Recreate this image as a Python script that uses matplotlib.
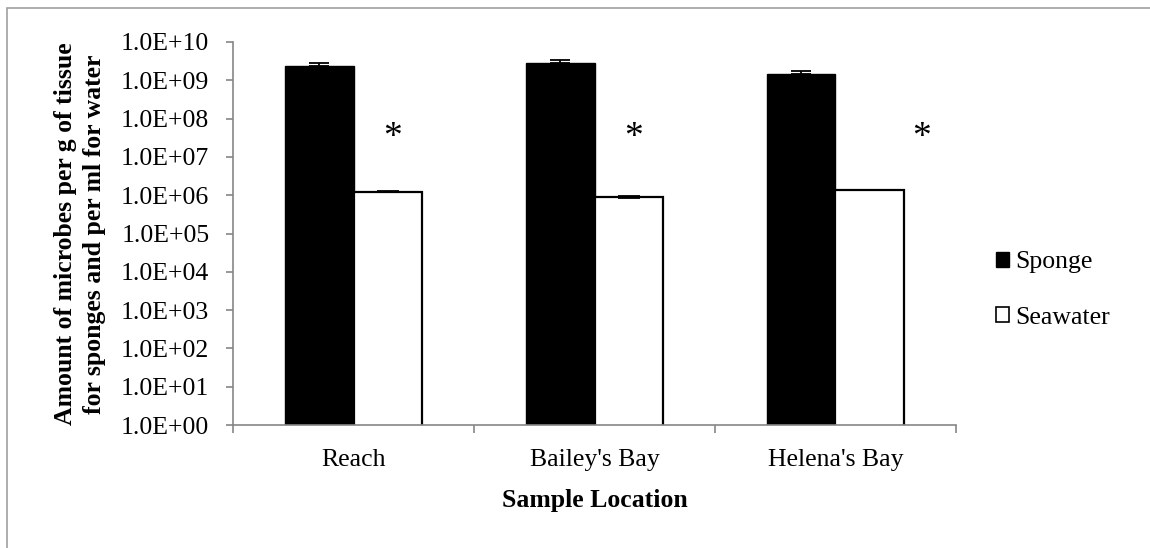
import numpy as np
import matplotlib
matplotlib.use("Agg")
import matplotlib.pyplot as plt
from matplotlib.patches import Patch, Rectangle

locations = ["Reach", "Bailey's Bay", "Helena's Bay"]
sponge = [2.3e9, 2.8e9, 1.45e9]
sponge_err = [0.5e9, 0.6e9, 0.32e9]
seawater = [1.24e6, 8.9e5, 1.34e6]
seawater_err = [0.06e6, 0.04e6, 0.01e6]
star_offsets = [0.164, 0.16, 0.355]
star_level = 10 ** 7.5

plt.rcParams['font.family'] = ['Liberation Serif', 'DejaVu Serif']
plt.rcParams['font.size'] = 18.5

fig = plt.figure(figsize=(11.5, 5.48), dpi=100)
ax = fig.add_axes([233 / 1150, 1 - 425 / 548, (956 - 233) / 1150, (425 - 42) / 548])

x = np.arange(len(locations))
w = 0.286
ax.bar(x - w / 2, sponge, w, color='black', edgecolor='black', linewidth=1,
       yerr=[np.zeros(3), sponge_err], error_kw=dict(ecolor='black', elinewidth=1.3, capsize=7, capthick=1.3),
       label='Sponge')
ax.bar(x + w / 2, seawater, w, color='white', edgecolor='black', linewidth=1.6,
       yerr=seawater_err, error_kw=dict(ecolor='black', elinewidth=1.3, capsize=8, capthick=1.3),
       label='Seawater')

for i, off in enumerate(star_offsets):
    ax.text(x[i] + off, star_level, '*', ha='center', va='center', fontsize=27)

ax.set_yscale('log')
ax.set_ylim(1, 1e10)
ax.set_xlim(-0.5, 2.5)
ax.set_yticks([10.0 ** k for k in range(11)])
ax.set_yticklabels(['1.0E+%02d' % k for k in range(11)])
ax.minorticks_off()
ax.set_xticks([-0.5, 0.5, 1.5, 2.5])
ax.set_xticklabels([])
ax.set_xticks(x, minor=True)
ax.set_xticklabels(locations, minor=True)
ax.tick_params(axis='x', which='major', length=6, color='#868686', width=1.2)
ax.tick_params(axis='x', which='minor', length=0, pad=17)
ax.tick_params(axis='y', length=5, color='#868686', width=1.2, pad=12)

for s in ['top', 'right']:
    ax.spines[s].set_visible(False)
for s in ['left', 'bottom']:
    ax.spines[s].set_color('#868686')
    ax.spines[s].set_linewidth(1.2)

fig.text(80 / 1150, 1 - 234 / 548,
         'Amount of microbes per g of tissue\nfor sponges and per ml for water',
         rotation=90, ha='center', va='center', fontweight='bold', linespacing=1.32)
fig.text(595 / 1150, 1 - 500 / 548, 'Sample Location', ha='center', va='center', fontweight='bold')

handles = [Patch(facecolor='black', edgecolor='black', label='Sponge'),
           Patch(facecolor='white', edgecolor='black', linewidth=1.2, label='Seawater')]
fig.legend(handles=handles, loc='center left', bbox_to_anchor=(996 / 1150, 1 - 290 / 548),
           frameon=False, handlelength=0.5, handleheight=0.5, handletextpad=0.25,
           labelspacing=1.3, borderaxespad=0, borderpad=0)

fig.patches.append(Rectangle((7 / 1150, -0.1), 1.2, 1 - 8 / 548 + 0.1, transform=fig.transFigure,
                             fill=False, edgecolor='#a0a0a0', linewidth=1.2))

fig.savefig('out.png', dpi=100)
